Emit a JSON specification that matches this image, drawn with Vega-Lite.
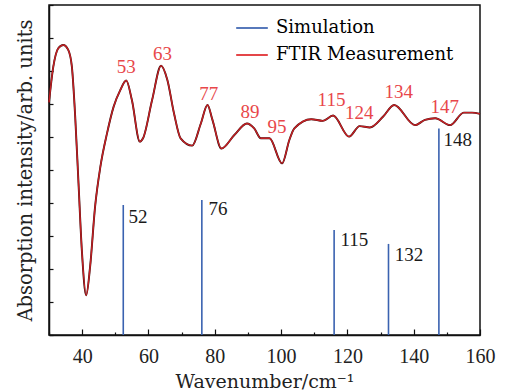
{
  "$schema": "https://vega.github.io/schema/vega-lite/v6.json",
  "width": 431,
  "height": 330,
  "autosize": {"type": "none"},
  "padding": {"left": 49, "top": 5, "right": 26, "bottom": 57},
  "background": "white",
  "config": {
    "view": {"stroke": "#111", "strokeWidth": 1.5},
    "font": "Liberation Serif",
    "axis": {
      "labelFont": "Liberation Serif",
      "titleFont": "DejaVu Serif",
      "labelFontSize": 20,
      "titleFontSize": 18,
      "titleFontWeight": "normal",
      "labelColor": "#222",
      "titleColor": "#222",
      "domainColor": "#111",
      "domainWidth": 1.5,
      "tickColor": "#111",
      "tickWidth": 1.2,
      "grid": false
    }
  },
  "datasets": {
    "ftir": [
      {"wn": 30.0, "v": 7.05}, {"wn": 31.3, "v": 8.13}, {"wn": 32.8, "v": 8.69}, {"wn": 34.3, "v": 8.79},
      {"wn": 35.8, "v": 8.64}, {"wn": 36.9, "v": 8.13}, {"wn": 37.9, "v": 6.62}, {"wn": 38.9, "v": 4.6},
      {"wn": 39.9, "v": 2.58}, {"wn": 41.2, "v": 1.2}, {"wn": 42.4, "v": 2.07}, {"wn": 43.9, "v": 3.89},
      {"wn": 45.5, "v": 5.1}, {"wn": 47.5, "v": 6.11}, {"wn": 49.5, "v": 6.92}, {"wn": 51.5, "v": 7.42},
      {"wn": 53.3, "v": 7.71}, {"wn": 55.0, "v": 7.12}, {"wn": 57.4, "v": 5.86}, {"wn": 58.4, "v": 5.97},
      {"wn": 61.1, "v": 7.12}, {"wn": 63.8, "v": 8.16}, {"wn": 65.7, "v": 7.73}, {"wn": 67.7, "v": 6.72},
      {"wn": 69.7, "v": 5.96}, {"wn": 73.2, "v": 5.74}, {"wn": 75.8, "v": 6.41}, {"wn": 77.8, "v": 6.97},
      {"wn": 79.3, "v": 6.52}, {"wn": 82.0, "v": 5.65}, {"wn": 85.9, "v": 6.06}, {"wn": 89.7, "v": 6.41},
      {"wn": 91.9, "v": 6.26}, {"wn": 93.9, "v": 5.96}, {"wn": 96.5, "v": 5.96}, {"wn": 100.3, "v": 5.2},
      {"wn": 102.5, "v": 5.91}, {"wn": 104.0, "v": 6.26}, {"wn": 109.1, "v": 6.54}, {"wn": 112.6, "v": 6.49},
      {"wn": 115.7, "v": 6.65}, {"wn": 120.5, "v": 6.01}, {"wn": 123.7, "v": 6.33}, {"wn": 126.8, "v": 6.29},
      {"wn": 130.8, "v": 6.62}, {"wn": 134.1, "v": 6.97}, {"wn": 140.4, "v": 6.36}, {"wn": 143.4, "v": 6.52},
      {"wn": 146.5, "v": 6.57}, {"wn": 151.0, "v": 6.36}, {"wn": 155.1, "v": 6.74}, {"wn": 157.6, "v": 6.74},
      {"wn": 160.0, "v": 6.7}
    ],
    "sim": [
      {"wn": 52.4, "v": 3.94, "label": "52", "lx": 54.0, "ly": 3.58},
      {"wn": 76.1, "v": 4.09, "label": "76", "lx": 78.1, "ly": 3.82},
      {"wn": 116.0, "v": 3.18, "label": "115", "lx": 117.9, "ly": 2.88},
      {"wn": 132.4, "v": 2.76, "label": "132", "lx": 134.3, "ly": 2.42},
      {"wn": 147.6, "v": 6.26, "label": "148", "lx": 149.0, "ly": 5.91}
    ],
    "peaks": [
      {"lx": 53.3, "ly": 8.12, "label": "53"},
      {"lx": 64.2, "ly": 8.52, "label": "63"},
      {"lx": 78.2, "ly": 7.3, "label": "77"},
      {"lx": 90.6, "ly": 6.76, "label": "89"},
      {"lx": 98.8, "ly": 6.3, "label": "95"},
      {"lx": 115.2, "ly": 7.12, "label": "115"},
      {"lx": 123.6, "ly": 6.73, "label": "124"},
      {"lx": 135.5, "ly": 7.36, "label": "134"},
      {"lx": 149.4, "ly": 6.91, "label": "147"}
    ]
  },
  "layer": [
    {
      "data": {"name": "ftir"},
      "mark": {"type": "line", "interpolate": "monotone", "strokeWidth": 1.9, "color": "#2a0505"},
      "encoding": {
        "x": {
          "field": "wn", "type": "quantitative",
          "scale": {"domain": [30, 160], "nice": false, "zero": false},
          "axis": {
            "title": "Wavenumber/cm⁻¹",
            "titleFontSize": 19,
            "values": [30, 40, 50, 60, 70, 80, 90, 100, 110, 120, 130, 140, 150, 160],
            "labelExpr": "datum.value % 20 === 0 ? datum.label : ''",
            "tickSize": {"condition": {"test": "datum.value % 20 === 0", "value": -6}, "value": -3},
            "labelPadding": 17,
            "titlePadding": 3,
            "labelFlush": false,
            "labelOverlap": false
          }
        },
        "y": {
          "field": "v", "type": "quantitative",
          "scale": {"domain": [0, 10], "nice": false, "zero": false},
          "axis": {
            "title": "Absorption intensity/arb. units",
            "titleFontSize": 19.5,
            "values": [0, 1, 2, 3, 4, 5, 6, 7, 8, 9, 10],
            "labels": false,
            "tickSize": -4,
            "titlePadding": 13
          }
        }
      }
    },
    {
      "data": {"name": "ftir"},
      "mark": {"type": "line", "interpolate": "monotone", "strokeWidth": 1.4, "opacity": 0.85},
      "encoding": {
        "x": {"field": "wn", "type": "quantitative", "axis": null},
        "y": {"field": "v", "type": "quantitative", "axis": null},
        "color": {"datum": "FTIR Measurement", "type": "nominal",
          "scale": {"domain": ["Simulation", "FTIR Measurement"], "range": ["#3a62b0", "#e0262a"]},
          "legend": {
            "title": null,
            "orient": "none",
            "legendX": 186,
            "legendY": 6,
            "symbolType": "stroke",
            "symbolSize": 1000,
            "symbolStrokeWidth": 2,
            "labelFont": "DejaVu Serif",
            "labelFontSize": 18,
            "rowPadding": 1,
            "labelOffset": 7,
            "labelLimit": 300,
            "encode": {"labels": {"update": {"fill": {"signal": "datum.value === 'Simulation' ? '#3a62b0' : '#e8393c'"}}}}
          }
        }
      }
    },
    {
      "data": {"name": "sim"},
      "mark": {"type": "rule", "strokeWidth": 1.6},
      "encoding": {
        "x": {"field": "wn", "type": "quantitative", "axis": null},
        "y": {"field": "v", "type": "quantitative", "axis": null},
        "y2": {"datum": 0},
        "color": {"datum": "Simulation", "type": "nominal"}
      }
    },
    {
      "data": {"name": "sim"},
      "mark": {"type": "text", "align": "left", "baseline": "middle", "fontSize": 19, "font": "Liberation Serif", "color": "#1a1a1a"},
      "encoding": {
        "x": {"field": "lx", "type": "quantitative", "axis": null},
        "y": {"field": "ly", "type": "quantitative", "axis": null},
        "text": {"field": "label"}
      }
    },
    {
      "data": {"name": "peaks"},
      "mark": {"type": "text", "align": "center", "baseline": "middle", "fontSize": 19, "font": "Liberation Serif", "color": "#e8474a"},
      "encoding": {
        "x": {"field": "lx", "type": "quantitative", "axis": null},
        "y": {"field": "ly", "type": "quantitative", "axis": null},
        "text": {"field": "label"}
      }
    }
  ],
  "resolve": {"axis": {"x": "independent", "y": "independent"}}
}
